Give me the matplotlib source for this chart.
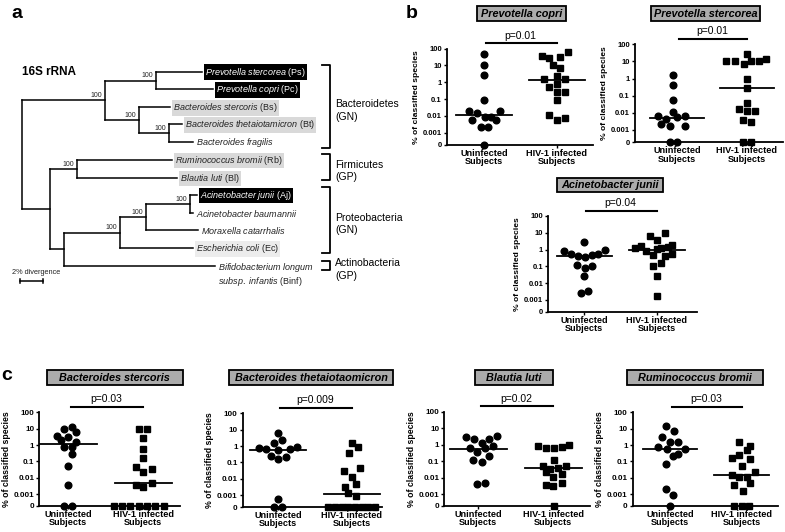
import matplotlib
matplotlib.use('Agg')
import matplotlib.pyplot as plt
import numpy as np
from matplotlib.patches import Rectangle

plt.rcParams['font.family'] = 'Liberation Sans'
plt.rcParams['mathtext.fontset'] = 'custom'
plt.rcParams['mathtext.it'] = 'Liberation Sans:italic'
plt.rcParams['mathtext.rm'] = 'Liberation Sans'

W, H = 785, 532
ZERO = -3.72   # where "0" sits on the broken log axis

# ---- data: % of classified species (0 = not detected) ----
copri_uninf = [50, 10, 2.7, 0.09, 0.019, 0.015, 0.0085, 0.0085, 0.019, 0.0054, 0.0054, 0.0021, 0.0021, 0]
copri_uninf_dx = [0, 0, 0, 0, -15, -7.3, 0.7, 7.3, 16, -11.7, 11.7, -3.3, 4, 0]
copri_hiv = [38, 27, 33, 66, 10.5, 7.3, 1.5, 2.4, 1.5, 0.52, 0.74, 0.27, 0.27, 0.085, 0.011, 0.0054, 0.0074]
copri_hiv_dx = [-15, -7.7, 3.3, 11, -3.7, 3.3, -12.7, 0, 7.7, -8, 0, 0, 7.7, 0, -7.7, 0, 7.7]
copri_med = [0.012, 1.3]

sterc_uninf = [1.6, 0.43, 0.057, 0.0105, 0.0068, 0.0044, 0.0058, 0.0068, 0.0023, 0.0018, 0.0018, 0, 0]
sterc_uninf_dx = [-4, -4, -4, -4, -19, -11.3, 0, 7.7, -15.7, -7.3, 7.7, -7.3, 0]
sterc_hiv = [26, 10.7, 10, 7, 10, 10, 13.5, 0.95, 0.28, 0.04, 0.017, 0.013, 0.013, 0.004, 0.0028, 0, 0]
sterc_hiv_dx = [0, -20.7, -11.7, -3.3, 4.3, 12, 19.3, 0, 0, 0, -8, 0, 7.7, -4, 3.7, -4, 3.7]
sterc_med = [0.005, 0.28]

acin_uninf = [0.78, 0.54, 0.43, 0.34, 0.45, 0.56, 0.93, 2.8, 0.126, 0.08, 0.11, 0.026, 0.0027, 0.0036]
acin_uninf_dx = [-20.3, -13.3, -6, 0.7, 7.3, 14, 20.7, 0, -7, 0.7, 8, 0, -3.7, 4]
acin_hiv = [6.6, 9.5, 3.8, 1.2, 1.7, 0.77, 0.49, 1.2, 1.5, 1.9, 0.43, 0.54, 0.16, 0.11, 0.026, 0.0017, 1.07]
acin_hiv_dx = [-7.3, 7.7, 0, -22.3, -15.7, -11.3, -4, 4.3, 11, 15.3, 7.7, 15.3, 3.7, -4, 0, 0, 0]
acin_med = [0.4, 1.0]

bster_uninf = [10, 12, 3.5, 1.9, 3.0, 6, 1.5, 0.8, 0.76, 0.28, 0.05, 0.0035, 0, 0]
bster_uninf_dx = [-4, 3.3, -11.7, -7.3, 0, 7.7, 7.3, -4, 3.3, 3.3, 0, 0, -4, 4]
bster_hiv = [9.5, 9.5, 2.7, 0.6, 0.16, 0.045, 0.022, 0.035, 0.0036, 0.0028, 0.0049, 0, 0, 0, 0, 0, 0, 0]
bster_hiv_dx = [-4.3, 4, 0, 0, 0, -7.7, 0, 8.3, -7.7, 0, 8.3, -29, -21, -13, -4.5, 4, 12, 20.5]
bster_med = [1.1, 0.005]

theta_uninf = [6.5, 1.6, 2.3, 0.72, 0.66, 0.6, 0.66, 0.83, 0.24, 0.17, 0.23, 0.00055, 0, 0]
theta_uninf_dx = [0, -4, 4.3, -19, -11.7, 0, 11.7, 19.3, -7.3, 0, 7.7, 0, -4, 4.3]
theta_hiv = [1.6, 0.9, 0.36, 0.031, 0.043, 0.0135, 0.0049, 0.003, 0.0013, 0.00095, 0, 0, 0, 0, 0, 0, 0, 0]
theta_hiv_dx = [0.7, 6, -2.7, -7.3, 8.3, 0.7, 4.3, -6.7, -3.3, 4.3, -23.3, -16.7, -10, -3.3, 3.3, 10, 16.7, 23.3]
theta_med = [0.6, 0.0012]

blaut_uninf = [3.0, 2.1, 1.2, 2.1, 3.3, 0.59, 0.34, 0.59, 0.78, 0.125, 0.09, 0.2, 0.0042, 0.005]
blaut_uninf_dx = [-12.3, -4.3, 3.3, 10.7, 18.3, -8.3, -1, 6.7, 15, -5, 3.3, 11, -1, 6.7]
blaut_hiv = [0.78, 0.61, 0.61, 0.68, 0.98, 0.11, 0.051, 0.035, 0.039, 0.051, 0.023, 0.016, 0.0104, 0.0036, 0.005, 0.003, 0]
blaut_hiv_dx = [-15, -7.3, 0.7, 8.3, 16, 0.7, -10.7, -3.3, 4.3, 12.3, -7.3, 8.3, 0, -7.3, 8.3, 0, 0.7]
blaut_med = [0.54, 0.039]

rumi_uninf = [14, 7, 3.2, 1.6, 1.6, 0.74, 0.59, 0.59, 0.22, 0.3, 0.07, 0.002, 0.0009, 0]
rumi_uninf_dx = [-4, 4, -8.3, 0, 7.7, -11.7, -3.3, 15, 3.3, 8.3, -4, -4, 3.3, 0]
rumi_hiv = [1.6, 0.93, 0.52, 0.24, 0.17, 0.15, 0.056, 0.014, 0.012, 0.012, 0.022, 0.0035, 0.0046, 0.0016, 0, 0, 0]
rumi_hiv_dx = [-2.7, 8.3, 5, -2.7, -10, 8.3, 0.7, -10, -2.7, 5, 13.3, -7.3, 8.3, 1.7, -7.3, 0, 7.7]
rumi_med = [0.55, 0.014]

groups = ['Uninfected\nSubjects', 'HIV-1 infected\nSubjects']
ytick_vals = [ZERO, -3, -2, -1, 0, 1, 2]
ytick_labels = ['0', '0.001', '0.01', '0.1', '1', '10', '100']


def to_log(vals):
    return [np.log10(v) if v > 0 else ZERO for v in vals]


fig = plt.figure(figsize=(W / 100, H / 100), dpi=100)
ov = fig.add_axes([0, 0, 1, 1])
ov.set_xlim(0, W)
ov.set_ylim(H, 0)
ov.axis('off')

# ---------------- panel a: tree ----------------
def leaf(name, abbr, y, xe, style):
    return ('leaf', name, abbr, y, xe, style)

tree = ('node', 22, False, [
    ('node', 105, True, [
        ('node', 156, True, [leaf('Prevotella stercorea', '(Ps)', 71.7, 202, 'black'),
                             leaf('Prevotella copri', '(Pc)', 89.3, 213, 'black')]),
        ('node', 139, True, [leaf('Bacteroides stercoris', '(Bs)', 107.3, 170, 'gray'),
                             ('node', 169.3, True, [leaf('Bacteroides thetaiotamicron', '(Bt)', 124.3, 182, 'gray'),
                                                    leaf('Bacteroides fragilis', '', 142, 193, None)])])]),
    ('node', 50, False, [
        ('node', 77, True, [leaf('Ruminococcus bromii', '(Rb)', 160, 172, 'gray'),
                            leaf('Blautia luti', '(Bl)', 178, 177, 'gray')]),
        ('node', 64, False, [
            ('node', 120, True, [
                ('node', 146, True, [
                    ('node', 190, True, [leaf('Acinetobacter junii', '(Aj)', 195, 197, 'black'),
                                         leaf('Acinetobacter baumannii', '', 213.3, 193, None)]),
                    leaf('Moraxella catarrhalis', '', 230, 198, None)]),
                leaf('Escherichia coli', '(Ec)', 248.3, 193, 'light')]),
            leaf('Bifidobacterium longum|subsp. infantis', '(Binf)', 265.7, 215, None)])])])

box_styles = {'black': ('black', 'white'), 'gray': ('#d9d9d9', '#222222'),
              'light': ('#ececec', '#222222')}


def italic(s):
    return '$' + s.replace(' ', r'\ ') + '$'


def draw(node, px=None):
    if node[0] == 'leaf':
        _, name, abbr, y, xe, style = node
        ov.plot([px, xe], [y, y], color='k', lw=1.1)
        parts = name.split('|')
        lines = [italic(p) for p in parts]
        if abbr:
            lines[-1] += ' ' + abbr
        kw = dict(fontsize=6.5, ha='left', linespacing=1.2)
        if len(lines) > 1:
            kw['va'] = 'top'
            ty = y - 5
        else:
            kw['va'] = 'center'
            ty = y + 0.5
        if style:
            fc, tc = box_styles[style]
            kw['bbox'] = dict(boxstyle='square,pad=0.15', fc=fc, ec='none')
            kw['color'] = tc
        else:
            kw['color'] = '#222222'
        ov.text(xe + 3, ty, '\n'.join(lines), **kw)
        return y
    _, x, boot, kids = node
    ys = [draw(k, x) for k in kids]
    y = (ys[0] + ys[-1]) / 2
    ov.plot([x, x], [ys[0], ys[-1]], color='k', lw=1.1)
    if px is not None:
        ov.plot([px, x], [y, y], color='k', lw=1.1)
    if boot:
        ov.text(x - 3, y - 1.5, '100', fontsize=5, ha='right', va='bottom', color='#222222')
    return y


draw(tree)

clades = ['Bacteroidetes\n(GN)', 'Firmicutes\n(GP)', 'Proteobacteria\n(GN)', 'Actinobacteria\n(GP)']
clade_spans = [(65, 148), (154, 180), (187, 253.3), (261, 270)]
for lab, (y0, y1) in zip(clades, clade_spans):
    ov.plot([322, 330, 330, 322], [y0, y0, y1, y1], color='k', lw=1.3)
    ov.text(335, (y0 + y1) / 2 + 4, lab, fontsize=7.5, ha='left', va='center', linespacing=1.3)

ov.text(22, 72, '16S rRNA', fontsize=8.5, fontweight='bold', va='center')
ov.text(12, 273, '2% divergence', fontsize=5.3, va='center', color='#222222')
ov.plot([20, 43], [281, 281], color='k', lw=1.1)
ov.plot([20, 20], [279, 283], color='k', lw=1.1)
ov.plot([43, 43], [279, 283], color='k', lw=1.1)

ov.text(17, 13, 'a', fontsize=14, fontweight='bold', ha='center', va='center')
ov.text(412, 13, 'b', fontsize=14, fontweight='bold', ha='center', va='center')
ov.text(7, 375, 'c', fontsize=14, fontweight='bold', ha='center', va='center')


# ---------------- scatter panels ----------------
def dot_panel(geom, title, box, pval, uninf, uninf_dx, hiv, hiv_dx, med, big=False):
    left, right, top, bottom, c0, c1 = geom
    ax = fig.add_axes([left / W, 1 - bottom / H, (right - left) / W, (bottom - top) / H])
    ax.patch.set_alpha(0)
    ppu = c1 - c0
    ax.set_xlim((left - c0) / ppu, (right - c0) / ppu)
    ax.set_ylim(ZERO, 2)
    ax.plot(np.array(uninf_dx) / ppu, to_log(uninf), 'o', ms=4.8, color='k',
            mec='k', clip_on=False, zorder=3)
    ax.plot(1 + np.array(hiv_dx) / ppu, to_log(hiv), 's', ms=4.4, color='k',
            mec='k', clip_on=False, zorder=3)
    for i, m in enumerate(med):
        ax.plot([i - 0.38, i + 0.38], [np.log10(m)] * 2, color='k', lw=1.3, zorder=4)
    for s in ['top', 'right']:
        ax.spines[s].set_visible(False)
    for s in ['left', 'bottom']:
        ax.spines[s].set_linewidth(1.3)
    ax.set_yticks(ytick_vals)
    ax.set_yticklabels(ytick_labels, fontsize=5.8 if big else 5.5, fontweight='bold')
    ax.set_xticks([0, 1])
    ax.set_xticklabels(groups, fontsize=6.6, fontweight='bold', linespacing=0.92)
    ax.tick_params(axis='y', length=2.2, width=1, pad=1.5)
    ax.tick_params(axis='x', length=2, width=1, pad=0.8)
    ax.set_ylabel('% of classified species', fontsize=6.3 if big else 6.1,
                  fontweight='bold', labelpad=2)
    # significance bar
    hpx = bottom - top
    yl = 1 + 5.5 / hpx
    ax.plot([0.03, 1.0], [yl, yl], color='k', lw=1.5, transform=ax.get_xaxis_transform(),
            clip_on=False)
    ax.text(0.5, 1 + 8 / hpx, pval, fontsize=7.5, ha='center', va='bottom',
            transform=ax.get_xaxis_transform())
    # title box
    x0, x1, y0, y1 = box
    ov.add_patch(Rectangle((x0, y0), x1 - x0, y1 - y0, fc='#ababab', ec='k', lw=1.3))
    ov.text((x0 + x1) / 2, (y0 + y1) / 2 + 0.5, title, fontsize=7.8, fontweight='bold',
            style='italic', ha='center', va='center')
    return ax


dot_panel((447, 593, 48.7, 144.7, 484, 557), 'Prevotella copri', (477, 566, 6, 21), 'p=0.01',
          copri_uninf, copri_uninf_dx, copri_hiv, copri_hiv_dx, copri_med)
dot_panel((635, 783, 44.3, 142.3, 677, 747), 'Prevotella stercorea', (651, 760, 6, 21), 'p=0.01',
          sterc_uninf, sterc_uninf_dx, sterc_hiv, sterc_hiv_dx, sterc_med)
dot_panel((548.3, 697, 216, 312, 584.3, 657), 'Acinetobacter junii', (557, 663, 178, 192), 'p=0.04',
          acin_uninf, acin_uninf_dx, acin_hiv, acin_hiv_dx, acin_med)
dot_panel((39.3, 180, 412.3, 506, 68.3, 143.3), 'Bacteroides stercoris', (47, 182.7, 370, 385), 'p=0.03',
          bster_uninf, bster_uninf_dx, bster_hiv, bster_hiv_dx, bster_med, big=True)
dot_panel((242.7, 381.7, 413.3, 507, 278, 351.7), 'Bacteroides thetaiotaomicron', (229, 393, 370, 385), 'p=0.009',
          theta_uninf, theta_uninf_dx, theta_hiv, theta_hiv_dx, theta_med, big=True)
dot_panel((444.3, 590, 411.7, 506, 478.3, 553.3), 'Blautia luti', (475, 553.3, 370, 385), 'p=0.02',
          blaut_uninf, blaut_uninf_dx, blaut_hiv, blaut_hiv_dx, blaut_med, big=True)
dot_panel((632.7, 778.3, 412.3, 506, 670, 741.7), 'Ruminococcus bromii', (626.7, 763.3, 370, 385), 'p=0.03',
          rumi_uninf, rumi_uninf_dx, rumi_hiv, rumi_hiv_dx, rumi_med, big=True)

fig.savefig('out.png', dpi=100)
